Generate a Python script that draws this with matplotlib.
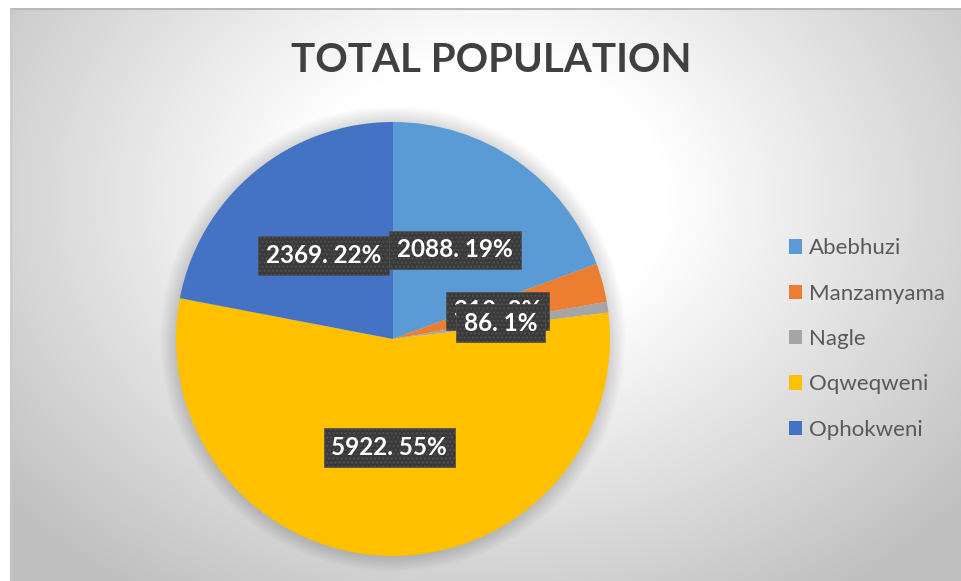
import numpy as np
import matplotlib
matplotlib.use("Agg")
import matplotlib.pyplot as plt
from matplotlib.patches import Circle, Patch

categories = ["Abebhuzi", "Manzamyama", "Nagle", "Oqweqweni", "Ophokweni"]
values = [2088, 310, 86, 5922, 2369]
colors = ["#5B9BD5", "#ED7D31", "#A5A5A5", "#FFC000", "#4472C4"]
title = "TOTAL POPULATION"

W, H = 961, 581
fig = plt.figure(figsize=(W / 100, H / 100), dpi=100)
fig.patch.set_facecolor("white")

# background gradient (chart area)
bg = fig.add_axes([10 / W, 0, 1 - 10 / W, 1 - 8 / H])
bg.set_axis_off()
yy, xx = np.mgrid[0:573, 0:951]
dx = (xx - 475) / 520.0
dy = (yy - 190) / 400.0
t = np.sqrt(dx ** 2 + dy ** 2)
g = 1.0 - 0.25 * np.clip((t - 0.35) / 0.85, 0, 1)
img = np.dstack([g, g, g])
bg.imshow(img, extent=[0, 1, 0, 1], aspect="auto", origin="upper")
bg.set_xlim(0, 1)
bg.set_ylim(0, 1)
bg.plot([0, 1], [0.999, 0.999], color="#b8b8b8", lw=1.5, transform=bg.transAxes)
bg.plot([0.001, 0.001], [0, 1], color="#c8c8c8", lw=1.0, transform=bg.transAxes)

cx, cy, r = 393, 339, 217
ax = fig.add_axes([(cx - r) / W, (H - cy - r) / H, 2 * r / W, 2 * r / H])
ax.set_axis_off()

wedges, _ = ax.pie(values, colors=colors, startangle=90, counterclock=False,
                   radius=1.0, wedgeprops=dict(linewidth=0))
ax.set_xlim(-1, 1)
ax.set_ylim(-1, 1)
ax.set_aspect("equal")
for w in wedges:
    w.set_zorder(1)

# soft shadow
for k in range(12):
    rad = 1.0 + 0.006 * (12 - k)
    ax.add_patch(Circle((0, 0.0), rad, color="black", alpha=0.012, lw=0,
                        zorder=0, clip_on=False))

total = sum(values)
pcts = [round(v / total * 100) for v in values]
for i in [0, 1, 3, 4, 2]:
    w = wedges[i]
    ang = np.deg2rad((w.theta1 + w.theta2) / 2)
    x, y = 0.5 * np.cos(ang), 0.5 * np.sin(ang)
    ax.text(x, y, f"{values[i]}. {pcts[i]}%", ha="center", va="center",
            fontsize=17.5, fontweight="bold", color="white", family="Lato",
            zorder=5 + (1 if i == 2 else 0),
            bbox=dict(boxstyle="square,pad=0.32", facecolor="#3a3a3a",
                      edgecolor="#505050", linewidth=0.5, hatch="...."))

fig.text(491 / W, 1 - 61 / H, title, ha="center", va="center", fontsize=29,
         fontweight="bold", color="#404040", family="Lato")

handles = [Patch(facecolor=c, edgecolor="none") for c in colors]
leg = fig.legend(handles, categories, loc="center left",
                 bbox_to_anchor=(769 / W, 1 - 339 / H), frameon=False,
                 prop=dict(family="Lato", size=16), labelcolor="#595959",
                 handlelength=0.6, handleheight=0.6, handletextpad=0.3,
                 labelspacing=1.14)

fig.savefig("out.png", dpi=100)
